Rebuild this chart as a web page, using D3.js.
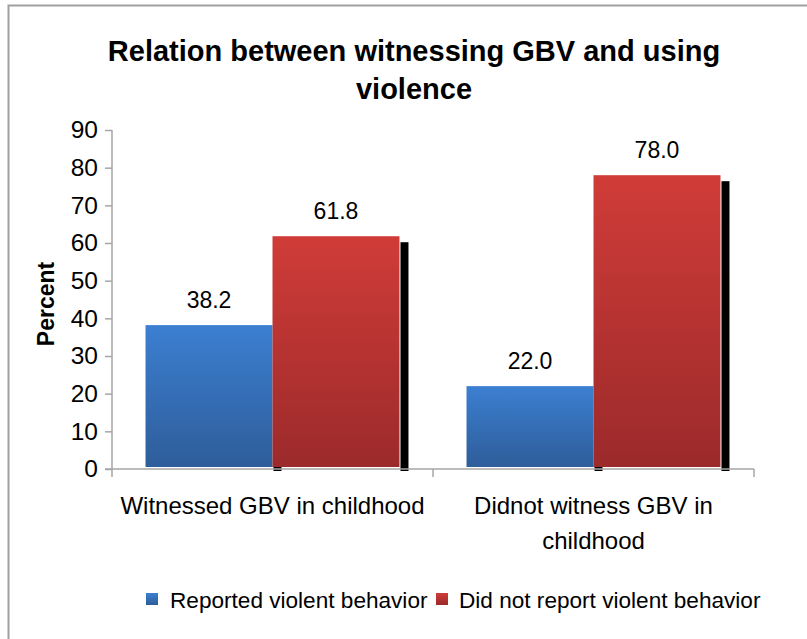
<!DOCTYPE html>
<html>
<head>
<meta charset="utf-8">
<script src="https://cdn.jsdelivr.net/npm/d3@7"></script>
<style>
html,body{margin:0;padding:0;background:#fff;}
svg{display:block;font-family:"Liberation Sans",Arial,sans-serif;}
</style>
</head>
<body>
<svg id="chart" width="807" height="639"></svg>
<script>
const categories = [["Witnessed GBV in childhood"], ["Didnot witness GBV in", "childhood"]];
const seriesNames = ["Reported violent behavior", "Did not report violent behavior"];
const reported = [38.2, 22.0];
const notReported = [61.8, 78.0];
const yTicks = [0, 10, 20, 30, 40, 50, 60, 70, 80, 90];

const svg = d3.select("#chart");

// frame
svg.append("rect").attr("x", 8.5).attr("y", 5.5).attr("width", 820).attr("height", 660)
  .attr("fill", "none").attr("stroke", "#a0a0a0").attr("stroke-width", 2);

const defs = svg.append("defs");
const grads = [
  {id: "gBlue", top: "#3c7fd1", bot: "#2e5d9a"},
  {id: "gRed", top: "#d03c38", bot: "#9c2a2b"}
];
grads.forEach(g => {
  const lg = defs.append("linearGradient").attr("id", g.id).attr("x1", 0).attr("y1", 0).attr("x2", 0).attr("y2", 1);
  lg.append("stop").attr("offset", "0%").attr("stop-color", g.top);
  lg.append("stop").attr("offset", "100%").attr("stop-color", g.bot);
});

const pLeft = 112, pRight = 754, pTop = 130, pBottom = 469;
const x0 = d3.scaleBand().domain(d3.range(categories.length)).range([pLeft, pRight]).paddingInner(0).paddingOuter(0);
const x1 = d3.scaleBand().domain([0, 1]).range([0, x0.bandwidth()]).paddingOuter(0.264).paddingInner(0);
const y = d3.scaleLinear().domain([0, 90]).range([pBottom, pTop]);

// title
svg.append("text").attr("x", 414).attr("y", 61).attr("text-anchor", "middle")
  .attr("font-size", 29).attr("font-weight", "bold").attr("fill", "#000")
  .text("Relation between witnessing GBV and using");
svg.append("text").attr("x", 414).attr("y", 99).attr("text-anchor", "middle")
  .attr("font-size", 29).attr("font-weight", "bold").attr("fill", "#000")
  .text("violence");

// y axis label
svg.append("text").attr("transform", "translate(53.5,304) rotate(-90)").attr("text-anchor", "middle")
  .attr("font-size", 23).attr("font-weight", "bold").text("Percent");

// y axis
const yAxis = d3.axisLeft(y).tickValues(yTicks).tickSize(7).tickPadding(7).tickFormat(d3.format("d"));
const gy = svg.append("g").attr("transform", `translate(${pLeft},0)`).call(yAxis);
gy.select(".domain").attr("stroke", "#a6a6a6").attr("stroke-width", 1.5).attr("d", `M0,${pTop}V${pBottom}`);
gy.selectAll(".tick line").attr("stroke", "#a6a6a6").attr("stroke-width", 1.5);
gy.selectAll(".tick text").attr("font-size", 24.5).attr("fill", "#000").attr("font-family", "Liberation Sans, Arial, sans-serif");

const data = categories.map((c, i) => [reported[i], notReported[i]]);
const fills = ["url(#gBlue)", "url(#gRed)"];

// shadows
data.forEach((vals, i) => {
  vals.forEach((v, j) => {
    const bx = x0(i) + x1(j);
    const bw = x1.bandwidth();
    svg.append("rect").attr("x", bx + bw + 1).attr("y", y(v) + 6)
      .attr("width", 8).attr("height", pBottom + 2 - (y(v) + 6)).attr("fill", "#000");
  });
});
// bars
data.forEach((vals, i) => {
  vals.forEach((v, j) => {
    const bx = x0(i) + x1(j);
    const bw = x1.bandwidth();
    svg.append("rect").attr("x", bx).attr("y", y(v)).attr("width", bw)
      .attr("height", pBottom - 2 - y(v)).attr("fill", fills[j]);
    svg.append("text").attr("x", bx + bw / 2).attr("y", y(v) - 17).attr("text-anchor", "middle")
      .attr("font-size", 23).attr("fill", "#000").text(d3.format(".1f")(v));
  });
});

// x axis
const gx = svg.append("g").attr("transform", `translate(0,${pBottom})`);
gx.append("line").attr("x1", pLeft - 7).attr("x2", pRight).attr("y1", 0).attr("y2", 0)
  .attr("stroke", "#a6a6a6").attr("stroke-width", 1.5);
[pLeft, x0(1), pRight].forEach(t => {
  gx.append("line").attr("x1", t).attr("x2", t).attr("y1", 0).attr("y2", 8)
    .attr("stroke", "#a6a6a6").attr("stroke-width", 1.5);
});
categories.forEach((lines, i) => {
  lines.forEach((ln, k) => {
    svg.append("text").attr("x", x0(i) + x0.bandwidth() / 2).attr("y", 514 + k * 35)
      .attr("text-anchor", "middle").attr("font-size", 24).attr("fill", "#000").text(ln);
  });
});

// legend
const legend = [
  {sx: 146, tx: 170, name: seriesNames[0], fill: fills[0]},
  {sx: 436, tx: 459, name: seriesNames[1], fill: fills[1]}
];
legend.forEach(l => {
  svg.append("rect").attr("x", l.sx).attr("y", 593).attr("width", 12).attr("height", 12).attr("fill", l.fill);
  svg.append("text").attr("x", l.tx).attr("y", 608).attr("font-size", 22.6).attr("fill", "#000").text(l.name);
});
</script>
</body>
</html>
